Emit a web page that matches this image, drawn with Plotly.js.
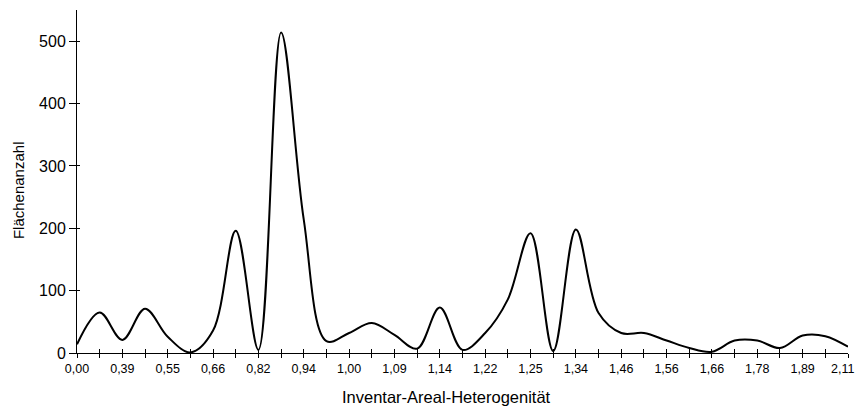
<!DOCTYPE html>
<html>
<head>
<meta charset="utf-8">
<script src="https://cdn.plot.ly/plotly-3.0.1.min.js"></script>
<style>html,body{margin:0;padding:0;background:#fff;}#chart{width:858px;height:408px;}</style>
</head>
<body>
<div id="chart"></div>
<script>
// Tick labels shown on every second category (35 categories in total)
const tickLabels = ["0,00","0,39","0,55","0,66","0,82","0,94","1,00","1,09","1,14","1,22","1,25","1,34","1,46","1,56","1,66","1,78","1,89","2,11"];
// Flächenanzahl per category
const values = [14, 65, 21, 71, 26, 1, 36, 196, 5, 514, 214, 19, 32, 48, 29, 7, 73, 5, 32, 86, 192, 3, 198, 64, 32, 32, 20, 8, 2, 20, 20, 8, 28, 27, 10];
const yTicks = [0, 100, 200, 300, 400, 500];
const xTitle = "Inventar-Areal-Heterogenität";
const yTitle = "Flächenanzahl";

const xIdx = values.map((_, i) => i);
const lastIdx = values.length - 1;
// the last label is drawn separately, pulled inside the page edge as in the reference
const tickText = xIdx.map(i => (i % 2 === 0 && i !== lastIdx ? tickLabels[i / 2] : ""));

const font = "Liberation Sans, Arial, sans-serif";
const data = [
  {x: xIdx, y: values, type: "scatter", mode: "lines",
   line: {color: "#000", width: 2, shape: "spline", smoothing: 1},
   hoverinfo: "skip", showlegend: false},
  {x: [], y: [], xaxis: "x2", yaxis: "y2", type: "scatter", mode: "lines", showlegend: false, hoverinfo: "skip"}
];
const xr = [0, lastIdx];
const yr = [0, 550];
const layout = {
  width: 858, height: 408,
  margin: {l: 77, r: 10, t: 10, b: 55},
  paper_bgcolor: "#fff", plot_bgcolor: "#fff",
  font: {family: font, color: "#000"},
  showlegend: false,
  xaxis: {
    range: xr, tickmode: "array", tickvals: xIdx, ticktext: tickText,
    ticks: "outside", ticklen: 4, tickwidth: 1, tickcolor: "#000",
    showline: true, linecolor: "#000", linewidth: 1, showgrid: false, zeroline: false,
    tickfont: {size: 12.5, family: font}, tickangle: 0, ticklabeloverflow: "allow"
  },
  yaxis: {
    range: yr, tickmode: "array", tickvals: yTicks,
    ticks: "outside", ticklen: 7, tickwidth: 1, tickcolor: "#000",
    showline: true, linecolor: "#000", linewidth: 1, showgrid: false, zeroline: false,
    tickfont: {size: 16, family: font}
  },
  xaxis2: {overlaying: "x", range: xr, tickmode: "array", tickvals: xIdx, ticktext: xIdx.map(() => ""),
    ticks: "inside", ticklen: 4, tickwidth: 1, tickcolor: "#000", showline: false, showgrid: false, zeroline: false,
    showticklabels: false, anchor: "y2", side: "bottom"},
  yaxis2: {overlaying: "y", range: yr, tickmode: "array", tickvals: yTicks,
    ticks: "inside", ticklen: 3, tickwidth: 1, tickcolor: "#000", showline: false, showgrid: false, zeroline: false,
    showticklabels: false, anchor: "x2", side: "left"},
  annotations: [
    {text: tickLabels[tickLabels.length - 1], xref: "paper", yref: "paper", x: 1.0104, y: -0.0466,
     xanchor: "right", yanchor: "middle", showarrow: false, font: {size: 12.5, family: font, color: "#000"}},
    {text: xTitle, xref: "paper", yref: "paper", x: 0.479, y: -0.128, xanchor: "center", yanchor: "middle",
     showarrow: false, font: {size: 16.5, family: font, color: "#000"}},
    {text: yTitle, xref: "paper", yref: "paper", x: -0.0765, y: 0.475, xanchor: "center", yanchor: "middle",
     textangle: -90, showarrow: false, font: {size: 15, family: font, color: "#000"}}
  ]
};
Plotly.newPlot("chart", data, layout, {staticPlot: true, displayModeBar: false});
</script>
</body>
</html>
